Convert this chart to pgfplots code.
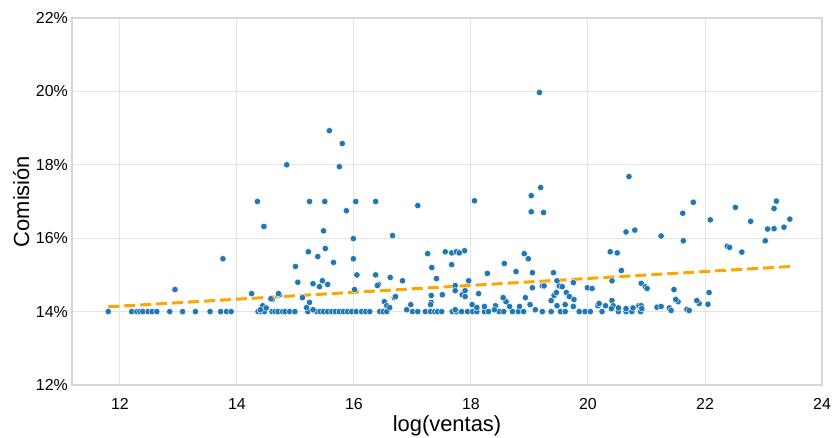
\documentclass[border=0pt]{standalone}
\usepackage{pgfplots}
\pgfplotsset{compat=1.18}
\usepackage{fontspec}
\setmainfont{Liberation Sans}
\definecolor{sbblue}{HTML}{1F77B4}
\definecolor{sborange}{HTML}{FFA500}
\definecolor{gridc}{HTML}{E3E3E3}
\definecolor{spinec}{HTML}{D6D6D6}
\begin{document}
\begin{tikzpicture}
\begin{axis}[
  scale only axis, width=750bp, height=367bp,
  xmin=11.18, xmax=24.0, ymin=12, ymax=22,
  xtick={12,14,...,24}, ytick={12,14,...,22},
  yticklabels={12\%,14\%,16\%,18\%,20\%,22\%},
  grid=major, major grid style={gridc, line width=1bp},
  axis line style={spinec, line width=1.2bp},
  major tick length=0pt,
  tick label style={font=\fontsize{16}{19}\selectfont, inner sep=0pt},
  /pgf/number format/assume math mode=true,
  xticklabel style={anchor=north, yshift=-13bp},
  yticklabel style={anchor=east, xshift=-4bp},
  xlabel={log(ventas)}, ylabel={Comisión},
  label style={font=\fontsize{22}{26}\selectfont},
  xlabel style={at={(axis description cs:0.5,-0.128)}, anchor=base},
  ylabel style={at={(axis description cs:-0.0573,0.5)}, anchor=base},
]
\coordinate (sw) at (rel axis cs:0,0);
\addplot[only marks, mark=*, mark size=3.2bp, mark options={fill=sbblue, draw=white, line width=0.4bp}] table {
x y
11.8 14.0
12.2 14.0
12.29 14.0
12.34 14.0
12.39 14.0
12.48 14.0
12.55 14.0
12.63 14.0
12.85 14.0
13.07 14.0
13.29 14.0
13.54 14.0
13.72 14.0
13.82 14.0
13.9 14.0
14.36 14.0
14.41 14.0
14.47 14.0
14.6 14.0
14.65 14.0
14.7 14.0
14.78 14.0
14.82 14.0
14.9 14.0
14.99 14.0
15.21 14.0
15.36 14.0
15.42 14.0
15.48 14.0
15.55 14.0
15.62 14.0
15.68 14.0
15.75 14.0
15.82 14.0
15.89 14.0
15.96 14.0
16.04 14.0
16.13 14.0
16.2 14.0
16.27 14.0
16.44 14.0
16.5 14.0
16.56 14.0
17.0 14.0
17.09 14.0
17.22 14.0
17.31 14.0
17.38 14.0
17.43 14.0
17.5 14.0
17.68 14.0
17.75 14.0
17.84 14.0
17.94 14.0
18.03 14.0
18.1 14.0
18.23 14.0
18.3 14.0
18.48 14.0
18.56 14.0
18.71 14.0
18.81 14.0
18.9 14.0
19.22 14.0
19.37 14.0
19.53 14.0
19.61 14.0
19.85 14.0
19.95 14.0
20.04 14.0
20.24 14.0
20.52 14.0
20.65 14.0
20.75 14.0
20.9 14.0
14.44 14.16
14.6 14.33
15.19 14.11
15.24 14.25
16.52 14.27
16.56 14.16
16.61 14.11
16.97 14.19
17.32 14.25
17.31 14.19
18.02 14.19
18.1 14.11
18.23 14.14
18.42 14.16
18.6 14.27
18.66 14.14
18.83 14.14
19.01 14.19
19.47 14.16
19.61 14.19
19.75 14.14
20.17 14.16
20.41 14.3
20.43 14.16
20.4 14.08
20.52 14.1
20.65 14.08
20.77 14.1
20.87 14.16
20.91 14.16
20.92 14.08
21.18 14.12
21.25 14.14
21.39 14.1
21.42 14.03
21.69 14.06
21.73 14.03
21.9 14.22
22.05 14.2
21.54 14.27
20.19 14.22
20.3 14.16
17.73 14.05
16.9 14.05
15.3 14.05
14.5 14.1
14.4 14.05
18.4 14.05
19.1 14.05
19.37 14.3
12.94 14.6
14.25 14.49
14.58 14.35
14.73 14.46
14.71 14.49
15.0 15.23
15.04 14.8
15.12 14.38
15.3 14.76
15.41 14.68
15.46 14.84
15.55 14.74
15.65 15.34
16.05 15.0
16.01 14.6
16.37 15.0
16.42 14.74
16.62 14.93
16.69 14.38
16.4 14.71
16.71 14.41
16.83 14.84
17.33 15.2
17.41 14.9
17.32 14.44
17.51 14.46
17.73 14.71
17.73 14.57
17.67 15.28
17.85 14.46
17.96 14.84
17.9 14.57
17.9 14.41
18.13 14.49
18.28 15.04
18.55 14.38
18.57 15.31
18.77 15.09
18.93 14.38
19.05 15.06
19.05 14.65
19.22 14.7
19.25 14.7
19.41 15.06
19.42 14.44
19.46 14.52
19.51 14.7
19.47 14.84
19.56 14.68
19.63 14.52
19.68 14.41
19.75 14.79
19.76 14.33
19.99 14.65
20.07 14.63
20.41 14.84
20.57 15.12
20.91 14.77
20.98 14.68
21.01 14.63
21.47 14.6
21.5 14.33
21.86 14.3
22.07 14.52
13.76 15.44
14.35 17.0
14.46 16.32
14.85 18.0
15.22 15.63
15.24 17.0
15.38 15.5
15.48 16.2
15.5 17.0
15.51 15.72
15.58 18.93
15.75 17.95
15.8 18.58
15.87 16.75
15.99 15.99
15.99 15.44
16.03 17.0
16.37 17.0
16.66 16.07
17.09 16.89
17.26 15.58
17.56 15.63
17.67 15.6
17.75 15.63
17.89 15.66
17.8 15.6
18.06 17.02
18.91 15.58
18.98 15.44
19.03 17.16
19.19 17.38
19.03 16.72
19.24 16.7
19.17 19.97
20.38 15.63
20.5 15.6
20.7 17.68
20.65 16.17
20.8 16.22
21.25 16.06
21.62 16.68
21.8 16.98
21.63 15.93
22.09 16.5
22.52 16.84
22.38 15.78
22.42 15.75
22.63 15.62
22.78 16.46
23.03 15.93
23.07 16.25
23.18 16.26
23.18 16.81
23.22 17.01
23.35 16.3
23.45 16.52
};
\addplot[sborange, line width=3bp, dash pattern=on 11bp off 5bp] table {
x y
11.8 14.13
23.47 15.23
};
\end{axis}
\pgfresetboundingbox
\path (sw) ++(-72bp,-53bp) rectangle ++(835bp,438bp);
\end{tikzpicture}
\end{document}
